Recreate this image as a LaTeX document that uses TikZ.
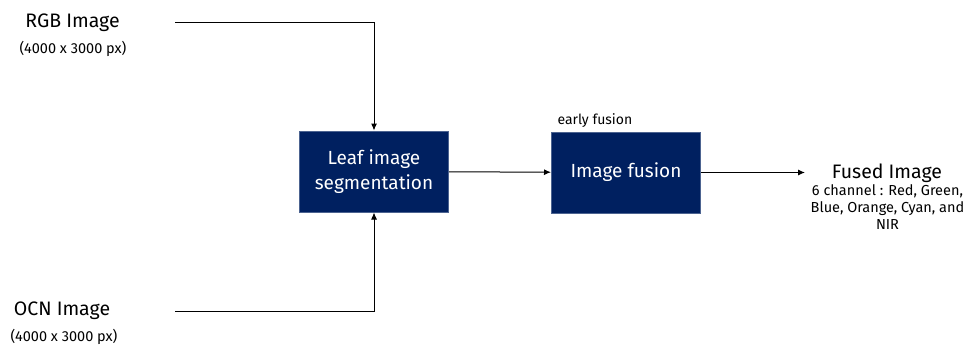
\documentclass[tikz,border=0pt]{standalone}
\usepackage{fontspec}
\setmainfont{Fira Sans}
\usetikzlibrary{arrows.meta}
\definecolor{navy}{RGB}{0, 32, 96}

\begin{document}
\begin{tikzpicture}[x=1pt, y=-1pt, line width=1pt,
    box/.style={fill=navy, draw=navy!70, minimum width=149pt, minimum height=81pt,
      align=center, text=white, font=\fontsize{19}{25}\selectfont},
    title/.style={font=\fontsize{19.5}{23}\selectfont, inner sep=0pt},
    small/.style={font=\fontsize{14.5}{17}\selectfont, inner sep=0pt, align=center},
    >={Latex[length=7pt, width=6pt]}]

  \useasboundingbox (0, 0) rectangle (967, 345);

  % inputs
  \node[title] (rgb) at (72.5, 23) {RGB Image};
  \node[small] (rgbsize) at (73, 49) {(4000 x 3000 px)};
  \node[title] (ocn) at (62, 311) {OCN Image};
  \node[small] (ocnsize) at (64, 337) {(4000 x 3000 px)};
  \coordinate (rgbout) at (175, 23);
  \coordinate (ocnout) at (175, 311);

  % processing blocks
  \node[box] (leaf) at (374, 171.5) {Leaf image\\segmentation};
  \node[box] (fusion) at (626, 172.5) {Image fusion};
  \node[small, font=\fontsize{14}{16}\selectfont, anchor=south west, xshift=6pt, yshift=4pt]
    (early) at (fusion.north west) {early fusion};

  % output
  \node[title] (fused) at (887, 173) {Fused Image};
  \node[small, anchor=north] (channels) at (887.5, 184) {6 channel : Red, Green,\\Blue, Orange, Cyan, and\\NIR};
  \coordinate (fusedin) at (805, 172.5);

  \draw[->] (rgbout) -| (leaf);
  \draw[->] (ocnout) -| (leaf);
  \draw[->] (leaf) -- (fusion);
  \draw[->] (fusion) -- (fusedin);

\end{tikzpicture}
\end{document}
